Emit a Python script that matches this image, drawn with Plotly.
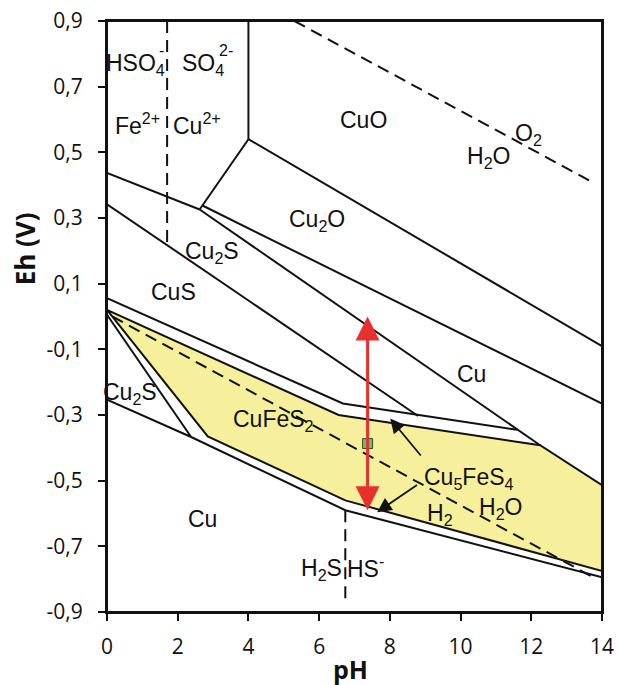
import plotly.graph_objects as go

# ---------------- data ----------------
# Solid boundary lines (pH, Eh)
line_cu2_cuo_x = [4.0, 4.0]
line_cu2_cuo_y = [0.9, 0.54]
line_cu2_lower_x = [4.0, 2.62]
line_cu2_lower_y = [0.54, 0.326]
line_a_x = [0.0, 2.62]
line_a_y = [0.437, 0.326]
line_1_x = [4.0, 14.0]
line_1_y = [0.54, -0.09]
line_2_x = [2.70, 14.0]
line_2_y = [0.338, -0.265]
line_3_x = [2.62, 12.25]
line_3_y = [0.326, -0.392]
line_4_x = [0.0, 8.8]
line_4_y = [0.342, -0.303]
line_b_x = [0.0, 6.67, 11.6]
line_b_y = [0.056, -0.265, -0.345]
cu2s_low_x = [0.0, 2.38, 0.0]
cu2s_low_y = [0.005, -0.367, -0.253]
lower_band_x = [2.38, 6.74, 14.0]
lower_band_y = [-0.367, -0.59, -0.794]

# Yellow CuFeS2 field
cufes2_x = [0.0, 6.55, 12.25, 14.0, 14.0, 6.74, 2.85, 0.0]
cufes2_y = [0.02, -0.30, -0.392, -0.514, -0.775, -0.56, -0.365, 0.02]

# Dashed lines
hso4_x = [1.70, 1.70]
hso4_y = [0.9, 0.222]
h2s_x = [6.74, 6.74]
h2s_y = [-0.59, -0.865]
o2_x = [5.3, 13.8]
o2_y = [0.9, 0.405]
h2_x = [0.15, 13.8]
h2_y = [0.0, -0.797]

# Measured sample (red range and green point)
sample_ph = 7.37
sample_eh_top = 0.0
sample_eh_bottom = -0.595
sample_eh_point = -0.387

# Black arrows from the Cu5FeS4 label: (tail x, tail y, head x, head y)
arrow_tail_x = [8.91, 8.81]
arrow_tail_y = [-0.428, -0.51]
arrow_head_x = [8.01, 7.64]
arrow_head_y = [-0.311, -0.596]

# Field labels
label_text = ["HSO<sub>4</sub>", "SO<sub>4</sub>", "Fe<sup>2+</sup>",
              "Cu<sup>2+</sup>", "CuO", "O<sub>2</sub>", "H<sub>2</sub>O", "Cu<sub>2</sub>O",
              "Cu<sub>2</sub>S", "CuS", "Cu", "Cu<sub>2</sub>S", "CuFeS<sub>2</sub>", "Cu",
              "Cu<sub>5</sub>FeS<sub>4</sub>", "H<sub>2</sub>", "H<sub>2</sub>O",
              "H<sub>2</sub>S", "HS<sup>-</sup>"]
label_x = [0.80, 2.72, 0.85, 2.55, 7.26, 11.92, 10.79, 5.94, 2.97, 1.88, 10.32, 0.66,
           4.71, 2.69, 10.23, 9.43, 11.12, 6.08, 7.32]
label_y = [0.768, 0.768, 0.587, 0.587, 0.598, 0.555, 0.485, 0.292, 0.195, 0.075, -0.174,
           -0.236, -0.318, -0.616, -0.492, -0.603, -0.585, -0.77, -0.763]

# Ion charges stacked above the sulfate subscripts
charge_text = ["-", "2-"]
charge_x = [1.53, 3.37]
charge_y = [0.81, 0.81]

# Axis ticks
x_ticks = [0, 2, 4, 6, 8, 10, 12, 14]
y_ticks = [0.9, 0.7, 0.5, 0.3, 0.1, -0.1, -0.3, -0.5, -0.7, -0.9]
y_tick_text = ["0,9", "0,7", "0,5", "0,3", "0,1", "-0,1", "-0,3", "-0,5", "-0,7", "-0,9"]

# ---------------- figure ----------------
fig = go.Figure()

BLACK = "#111111"
LW = 2
DASH = "12px,7px"

fig.add_trace(go.Scatter(x=cufes2_x, y=cufes2_y, mode="lines", fill="toself",
                         fillcolor="#f6f09c", line=dict(color=BLACK, width=LW),
                         hoverinfo="skip"))

for xs, ys in [(line_cu2_cuo_x, line_cu2_cuo_y), (line_cu2_lower_x, line_cu2_lower_y),
               (line_a_x, line_a_y), (line_1_x, line_1_y), (line_2_x, line_2_y),
               (line_3_x, line_3_y), (line_4_x, line_4_y), (line_b_x, line_b_y),
               (cu2s_low_x, cu2s_low_y), (lower_band_x, lower_band_y)]:
    fig.add_trace(go.Scatter(x=xs, y=ys, mode="lines",
                             line=dict(color=BLACK, width=LW), hoverinfo="skip"))

for xs, ys in [(hso4_x, hso4_y), (h2s_x, h2s_y), (o2_x, o2_y), (h2_x, h2_y)]:
    fig.add_trace(go.Scatter(x=xs, y=ys, mode="lines",
                             line=dict(color=BLACK, width=LW, dash=DASH), hoverinfo="skip"))

annotations = []
for t, x, y in zip(label_text, label_x, label_y):
    annotations.append(dict(x=x, y=y, xref="x", yref="y", text=t, showarrow=False,
                            font=dict(family="Liberation Sans, Arial", size=23, color=BLACK)))
for t, x, y in zip(charge_text, charge_x, charge_y):
    annotations.append(dict(x=x, y=y, xref="x", yref="y", text=t, showarrow=False,
                            font=dict(family="Liberation Sans, Arial", size=16, color=BLACK)))

for tx, ty, hx, hy in zip(arrow_tail_x, arrow_tail_y, arrow_head_x, arrow_head_y):
    annotations.append(dict(x=hx, y=hy, ax=tx, ay=ty, xref="x", yref="y", axref="x", ayref="y",
                            text="", showarrow=True, arrowhead=2, arrowsize=1.6,
                            arrowwidth=1.8, arrowcolor=BLACK))

# red double arrow
annotations.append(dict(x=sample_ph, y=sample_eh_top, ax=sample_ph, ay=sample_eh_bottom,
                        xref="x", yref="y", axref="x", ayref="y", text="", showarrow=True,
                        arrowhead=2, startarrowhead=2, arrowside="end+start",
                        arrowsize=1.6, startarrowsize=1.6, arrowwidth=3,
                        arrowcolor="#e8302e"))

# axis titles
annotations.append(dict(x=-0.166, y=0.615, xref="paper", yref="paper", text="<b>Eh (V)</b>",
                        textangle=-90, showarrow=False, xanchor="center", yanchor="middle",
                        font=dict(family="Open Sans", size=26, color=BLACK)))
annotations.append(dict(x=0.492, y=-0.097, xref="paper", yref="paper", text="<b>pH</b>",
                        showarrow=False, xanchor="center", yanchor="middle",
                        font=dict(family="Open Sans", size=25, color=BLACK)))

fig.add_trace(go.Scatter(x=[sample_ph], y=[sample_eh_point], mode="markers",
                         marker=dict(symbol="square", size=10, color="#6cbd6a",
                                     line=dict(color="#2d4f2c", width=1)),
                         hoverinfo="skip"))

fig.update_layout(
    width=618, height=685,
    margin=dict(l=107, r=16, t=21, b=73, autoexpand=False),
    paper_bgcolor="white", plot_bgcolor="white",
    showlegend=False,
    annotations=annotations,
    shapes=[dict(type="rect", xref="paper", yref="paper", x0=0, x1=1, y0=0, y1=1,
                 line=dict(color=BLACK, width=2), layer="above")],
    xaxis=dict(range=[0, 14], tickvals=x_ticks, ticks="outside", ticklen=7, tickwidth=2,
               tickcolor=BLACK, showline=True, linecolor=BLACK, linewidth=2, mirror=True,
               showgrid=False, zeroline=False, ticklabelstandoff=8, automargin=False,
               ticklabeloverflow="allow",
               tickfont=dict(family="Open Sans", size=21, color=BLACK)),
    yaxis=dict(range=[-0.9, 0.9], tickvals=y_ticks, ticktext=y_tick_text, ticks="outside",
               ticklen=7, tickwidth=2, tickcolor=BLACK, showline=True, linecolor=BLACK,
               linewidth=2, mirror=True, showgrid=False, zeroline=False,
               ticklabelstandoff=11, automargin=False, ticklabeloverflow="allow",
               tickfont=dict(family="Open Sans", size=21, color=BLACK)),
)

# remove the default 8px page margin so the figure sits at the window's corner
fig.write_html("out.html", config={"displayModeBar": False},
               post_script="document.body.style.margin='0';document.body.style.overflow='hidden';")
